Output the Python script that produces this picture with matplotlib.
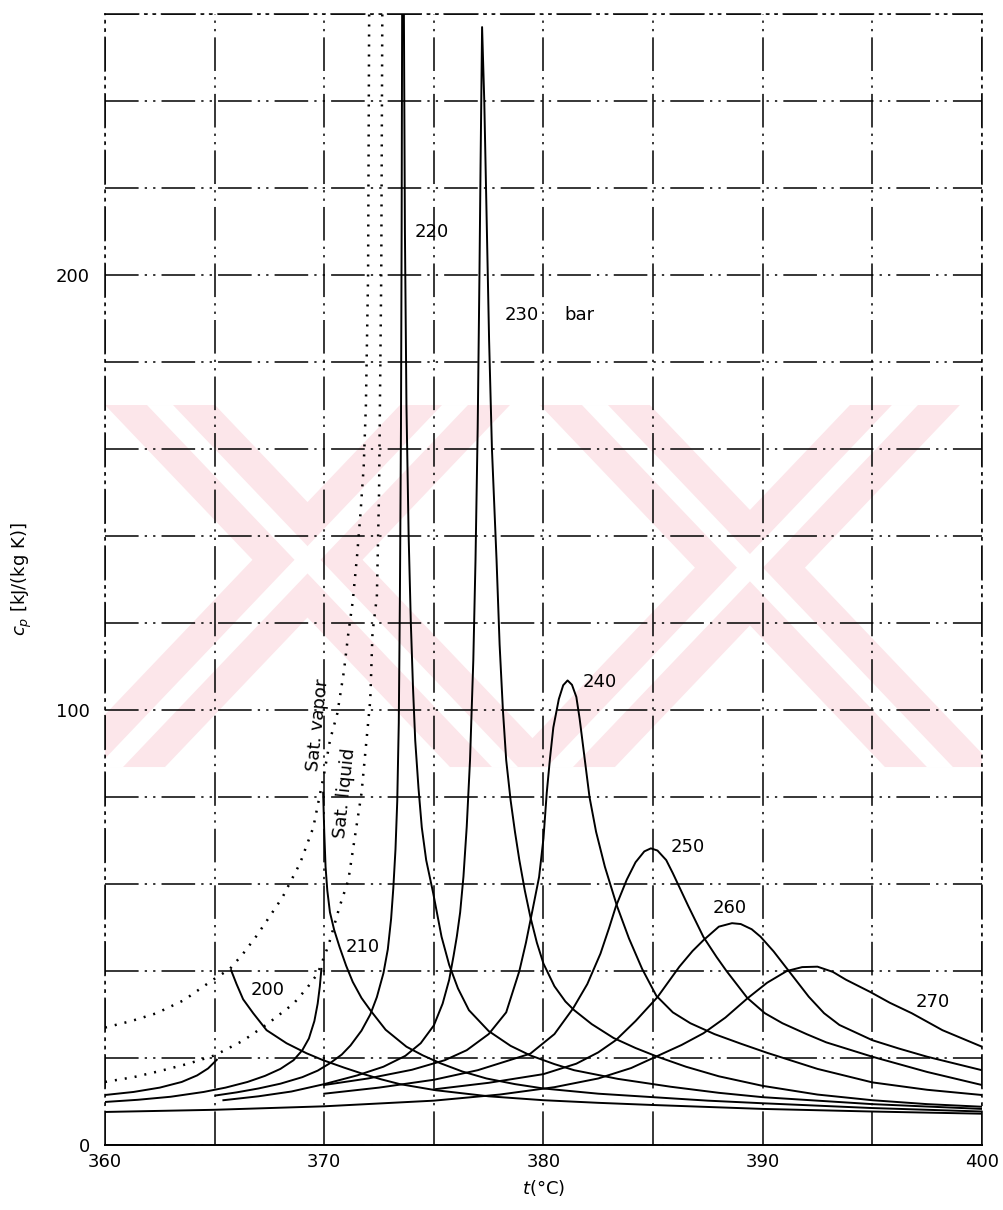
import matplotlib.pyplot as plt
import matplotlib.ticker as mticker
from matplotlib.patches import Polygon

plt.rcParams['font.family'] = ['DejaVu Sans']
plt.rcParams['mathtext.fontset'] = 'dejavusans'

# saturation lines (dotted)
sat_vap_t = [360, 361.2, 362.35, 363.6, 364.9, 365.7, 366.3, 366.9, 367.4, 368.1, 368.9,
             369.5, 370.0, 370.26, 370.6, 370.9, 371.1, 371.3, 371.5, 371.65, 371.8,
             371.9, 372.0, 372.05]
sat_vap_cp = [27, 28.5, 30.3, 33.3, 37.9, 40.5, 44, 48, 51.7, 57, 64.8,
              73, 85.5, 93, 99.3, 109, 117.7, 125, 135.6, 145, 156,
              170, 200, 262]
sat_liq_t = [360, 361.3, 362.5, 363.8, 365, 366.3, 367.4, 368.6, 369.2, 369.7, 370.2,
             370.7, 371.1, 371.4, 371.7, 371.9, 372.1, 372.2, 372.4, 372.5, 372.6, 372.65]
sat_liq_cp = [14.5, 15.6, 17, 18.7, 20.6, 24, 27.8, 32.5, 36, 39.4, 46,
              54.8, 60.9, 70.9, 80.9, 91.6, 102.3, 117.7, 126, 150, 200, 262]

# isobars, t in deg C, cp in kJ/(kg K)
p200_liq_t = [360, 361.3, 362.5, 363.5, 364.2, 364.7, 365.1]
p200_liq_cp = [11.5, 12.2, 13.2, 14.5, 16, 17.6, 19.6]
p200_vap_t = [365.75, 366.0, 366.3, 366.76, 367.37, 368.28, 369.19, 369.95, 370.9,
              371.8, 372.6, 373.45, 375.08, 377.5, 380, 382.5, 385, 390, 395, 400]
p200_vap_cp = [40.2, 37, 33.5, 30.3, 26.4, 23.4, 21.1, 19.5, 17.8,
               16.3, 15.1, 14.0, 12.6, 11.2, 10.3, 9.7, 9.2, 8.3, 7.7, 7.2]

p210_liq_t = [360, 361.5, 363, 364.5, 365.5, 366.5, 367.3, 368, 368.6, 369, 369.3,
              369.55, 369.7, 369.8, 369.87]
p210_liq_cp = [9.9, 10.4, 11.1, 12.2, 13.2, 14.5, 15.9, 17.5, 19.5, 21.8, 24.5,
               28.5, 32.5, 36.5, 40.5]
p210_vap_t = [369.95, 370.0, 370.06, 370.14, 370.26, 370.45, 370.7, 371.0, 371.3, 371.7,
              372.1, 372.8, 373.75, 374.5, 375.3, 376.3, 377.4, 378.7, 380, 382.5,
              385, 387.5, 390, 395, 400]
p210_vap_cp = [81, 72, 64, 58.5, 53.5, 49.5, 45.5, 41.2, 37.5, 33.8,
               31, 26.5, 22.6, 20.6, 18.8, 16.9, 15.3, 14, 13, 11.8,
               11.0, 10.2, 9.6, 8.5, 7.7]

p220_t = [365.06, 366, 367, 368, 369, 369.7, 370.26, 370.8, 371.2, 371.7, 372.1, 372.4,
          372.7, 372.9, 373.05, 373.15, 373.25, 373.33, 373.4, 373.45, 373.5, 373.53,
          373.56, 373.62, 373.68, 373.75, 373.85, 373.95, 374.05, 374.15, 374.3,
          374.45, 374.65, 374.97, 375.35, 375.7, 376.1, 376.6, 377.5, 378.5, 379.4,
          380.5, 381.4, 383.4, 385.8, 388, 390, 395, 400]
p220_cp = [11.4, 12.1, 13.0, 14.1, 15.6, 17.1, 18.8, 20.8, 22.9, 26.3, 30, 34,
           39.5, 45, 52, 59, 68, 79, 97, 125, 165, 210,
           275, 275, 210, 170, 140, 120, 105, 93, 82,
           73, 65.5, 57.9, 47.9, 41.4, 36, 31, 26.2, 22.8, 20.6,
           18.6, 17.2, 15.2, 13.4, 12.0, 11.0, 9.4, 8.3]

p230_t = [365.4, 367, 368.5, 370, 371.5, 372.7, 373.7, 374.4, 375, 375.4, 375.7, 375.9,
          376.05, 376.2, 376.35, 376.5, 376.65, 376.8, 376.9, 377.0, 377.08, 377.13,
          377.2, 377.3, 377.42, 377.52, 377.65, 377.86, 378.0, 378.15, 378.3, 378.5,
          378.7, 378.9, 379.15, 379.4, 379.7, 380.0, 380.5, 381.0, 381.4, 382.2,
          383.2, 384.2, 385.2, 386.5, 388, 390, 392.5, 395, 397.5, 400]
p230_cp = [10.3, 11.2, 12.3, 14.0, 16.0, 18.0, 20.5, 23.4, 27.5, 32.5, 38, 43.5,
           48, 53.5, 61.7, 73.2, 88.5, 111.5, 134.5, 165, 200, 225,
           257, 240, 210, 185, 160, 134.5, 115, 100, 88.5, 79.3,
           72, 65.5, 58.5, 52.5, 46.5, 41.7, 36.5, 33, 31, 27.8,
           24.6, 22.3, 20.3, 18, 15.8, 13.6, 11.6, 10.3, 9.4, 8.8]

p240_t = [370, 372, 374, 375.5, 376.5, 377.5, 378.3, 378.9, 379.2, 379.5, 379.8, 380.0,
          380.15, 380.3, 380.45, 380.7, 380.9, 381.1, 381.3, 381.5, 381.65, 381.8,
          382.1, 382.4, 382.8, 383.35, 383.9, 384.5, 385.15, 385.9, 386.7, 387.8,
          389, 390.2, 392.5, 395, 397.5, 400]
p240_cp = [13.8, 15.3, 17.3, 19.5, 21.8, 25.5, 30.5, 40, 46.5, 54, 61.6, 70.5,
           81, 89, 96, 102.5, 105.7, 106.8, 105.8, 103, 98, 92,
           80, 72, 64, 55, 47.5, 40.5, 34.3, 30.5, 28, 25.5,
           23.3, 21.2, 17.5, 14.4, 12.7, 11.5]

p250_t = [370, 372.5, 375, 377, 379.4, 380.5, 381.35, 382, 382.6, 383.0, 383.3, 383.8,
          384.2, 384.6, 384.9, 385.2, 385.6, 385.9, 386.6, 387.3, 387.9, 388.35,
          389.3, 390.1, 390.9, 392, 392.9, 395, 397.5, 400]
p250_cp = [11.8, 13.2, 15, 17.2, 21, 25.5, 31.4, 37, 44, 50, 54.8, 61,
           65, 67.5, 68.2, 67.7, 65.5, 62.5, 55, 47.8, 43.2, 40,
           33.8, 30.3, 28, 25.5, 23.6, 20.3, 16.8, 13.8]

p260_t = [375, 377.5, 380, 381.5, 382.5, 383.3, 384.2, 385.2, 386.2, 386.8, 387.3, 388.0,
          388.6, 389.0, 389.5, 389.9, 390.5, 391.1, 392.1, 392.8, 393.5, 395, 396.2,
          397.5, 400]
p260_cp = [12.8, 14.3, 16.3, 18.7, 21.3, 24.1, 28.5, 34, 41, 44.6, 47.1, 50.2,
           51, 50.8, 49.6, 47.9, 44.5, 40.6, 34.1, 30.3, 27.6, 24.1, 22.2,
           20.3, 17.2]

p270_t = [360, 365, 370, 375, 378, 380.5, 382.5, 384, 385.3, 386.3, 387.3, 388.3, 389.3,
          390.2, 391.1, 391.8, 392.5, 393.2, 393.8, 394.9, 395.8, 396.8, 398.2, 400]
p270_cp = [7.6, 8.1, 8.9, 10.2, 11.6, 13.3, 15.3, 17.7, 20.7, 23, 25.7, 29.3, 33.7,
           37.3, 40.0, 40.9, 41, 39.8, 38, 35.2, 32.7, 30.3, 26.4, 22.6]

isobar_labels = ['200', '210', '220', '230', 'bar', '240', '250', '260', '270']
label_t = [367.43, 371.76, 374.9, 379.0, 381.66, 382.57, 386.6, 388.5, 397.76]
label_cp = [35.6, 45.5, 210, 190.8, 190.8, 106.4, 68.5, 54.5, 32.9]

fig = plt.figure(figsize=(10.04, 12.10), dpi=100)
ax = fig.add_axes([0.1046, 0.0537, 0.8734, 0.9347])

# faint pink watermark behind the chart (pixel outline -> axes fraction)
def px(x, y):
    return ((x - 105) / 877, (1145 - y) / 1131)

bands = [(105, 450), (400, 55), (540, 885), (850, 505)]
for x_top, x_bot in bands:
    outer = [(x_top, 405), (x_top + 110, 405), (x_bot + 110, 767), (x_bot, 767)]
    inner = [(x_top + 42, 405), (x_top + 68, 405), (x_bot + 68, 767), (x_bot + 42, 767)]
    ax.add_patch(Polygon([px(*p) for p in outer], closed=True, transform=ax.transAxes,
                         facecolor='#fce6ea', edgecolor='none', zorder=0))
for x_top, x_bot in bands:
    inner = [(x_top + 42, 405), (x_top + 68, 405), (x_bot + 68, 767), (x_bot + 42, 767)]
    ax.add_patch(Polygon([px(*p) for p in inner], closed=True, transform=ax.transAxes,
                         facecolor='white', edgecolor='none', zorder=0.1))

ax.plot(sat_vap_t, sat_vap_cp, color='k', lw=1.8, linestyle=(0, (0.8, 3.2)))
ax.plot(sat_liq_t, sat_liq_cp, color='k', lw=1.8, linestyle=(0, (0.8, 3.2)))
for t, cp in [(p200_liq_t, p200_liq_cp), (p200_vap_t, p200_vap_cp),
              (p210_liq_t, p210_liq_cp), (p210_vap_t, p210_vap_cp),
              (p220_t, p220_cp), (p230_t, p230_cp), (p240_t, p240_cp),
              (p250_t, p250_cp), (p260_t, p260_cp), (p270_t, p270_cp)]:
    ax.plot(t, cp, color='k', lw=1.4)

for s, x, y in zip(isobar_labels, label_t, label_cp):
    ax.text(x, y, s, fontsize=13, va='center', ha='center')

ax.text(369.7, 96.5, 'Sat. vapor', fontsize=13, rotation=84, ha='center', va='center')
ax.text(370.95, 81, 'Sat. liquid', fontsize=13, rotation=84, ha='center', va='center')

ax.set_xlim(360, 400)
ax.set_ylim(0, 260)
ax.xaxis.set_major_locator(mticker.MultipleLocator(10))
ax.xaxis.set_minor_locator(mticker.MultipleLocator(5))
ax.yaxis.set_major_locator(mticker.FixedLocator([0, 100, 200]))
ax.yaxis.set_minor_locator(mticker.MultipleLocator(20))
ax.tick_params(which='both', length=0, labelsize=13)
ax.tick_params(axis='x', pad=6)
ax.tick_params(axis='y', pad=11)
grid_style = (0, (22, 4, 1.5, 4, 1.5, 4))
ax.grid(True, which='both', color='k', lw=1.1, linestyle=grid_style)
for side in ['left', 'top', 'right']:
    ax.spines[side].set_linestyle(grid_style)
    ax.spines[side].set_linewidth(1.1)
ax.spines['bottom'].set_linewidth(1.4)

ax.set_xlabel(r'$t$(°C)', fontsize=13, labelpad=5)
ax.set_ylabel(r'$c_p$ [kJ/(kg K)]', fontsize=13, labelpad=16)

fig.savefig('out.png', dpi=100)
